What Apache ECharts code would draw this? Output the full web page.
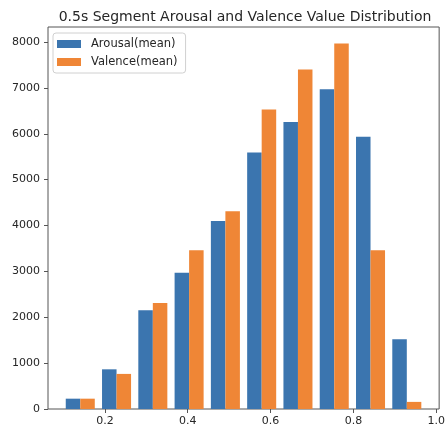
<!DOCTYPE html>
<html>
<head>
<meta charset="utf-8">
<script src="https://cdn.jsdelivr.net/npm/echarts@6/dist/echarts.min.js"></script>
<style>
  html, body { margin: 0; padding: 0; background: #fff; }
  #chart { width: 448px; height: 436px; }
</style>
</head>
<body>
<div id="chart"></div>
<script>
// Histogram bin edges (10 bins) and per-bin counts
const binEdges = [0.0967, 0.1843, 0.2719, 0.3595, 0.4471, 0.5347, 0.6223, 0.7099, 0.7975, 0.8851, 0.9727];
const arousalCounts = [225, 865, 2150, 2970, 4100, 5590, 6255, 6970, 5935, 1520];
const valenceCounts = [225, 765, 2310, 3460, 4310, 6530, 7400, 7970, 3460, 155];
const seriesNames = ['Arousal(mean)', 'Valence(mean)'];
const xTicks = [0.2, 0.4, 0.6, 0.8, 1.0];
const yTicks = [0, 1000, 2000, 3000, 4000, 5000, 6000, 7000, 8000];

const FONT = 'DejaVu Sans';
const TEXT = '#262626';
const FRAME = '#555555';

// Each bin is split into two side-by-side bars covering 80% of the bin width
function binBars(counts, slot) {
  return counts.map((c, i) => {
    const lo = binEdges[i], hi = binEdges[i + 1], w = hi - lo;
    const start = lo + w * (0.1 + 0.4 * slot);
    return [start, start + w * 0.4, c];
  });
}

function renderBar(params, api) {
  const p0 = api.coord([api.value(0), api.value(2)]);
  const p1 = api.coord([api.value(1), 0]);
  return {
    type: 'rect',
    shape: { x: p0[0], y: p0[1], width: p1[0] - p0[0], height: p1[1] - p0[1] },
    style: { fill: api.visual('color') }
  };
}

const chart = echarts.init(document.getElementById('chart'), null, { renderer: 'canvas' });
chart.setOption({
  animation: false,
  backgroundColor: '#ffffff',
  title: {
    text: '0.5s Segment Arousal and Valence Value Distribution',
    left: 240, top: 5, textAlign: 'center',
    textStyle: { fontFamily: FONT, fontSize: 14, fontWeight: 'normal', color: TEXT }
  },
  legend: {
    data: seriesNames,
    orient: 'vertical',
    left: 53, top: 33,
    icon: 'rect',
    itemWidth: 24, itemHeight: 8, itemGap: 4,
    padding: [4, 8, 4, 4],
    borderColor: '#d0d0d0', borderWidth: 1, borderRadius: 3,
    backgroundColor: 'rgba(255,255,255,0.8)',
    textStyle: { fontFamily: FONT, fontSize: 11.5, color: TEXT, lineHeight: 14, padding: [0, 0, 0, 5] }
  },
  grid: {
    left: 48, right: 6, top: 27, bottom: 27,
    show: true, borderColor: FRAME, borderWidth: 1, backgroundColor: 'transparent'
  },
  xAxis: {
    type: 'value', min: 0.0626, max: 1.007,
    axisLine: { show: false },
    splitLine: { show: false },
    axisTick: { show: true, length: 4, customValues: xTicks, lineStyle: { color: FRAME } },
    axisLabel: {
      customValues: xTicks, margin: 7,
      fontFamily: FONT, fontSize: 11, color: TEXT,
      formatter: v => v.toFixed(1)
    }
  },
  yAxis: {
    type: 'value', min: 0, max: 8327,
    axisLine: { show: false },
    splitLine: { show: false },
    axisTick: { show: true, length: 4, customValues: yTicks, lineStyle: { color: FRAME } },
    axisLabel: {
      customValues: yTicks, margin: 8,
      fontFamily: FONT, fontSize: 11, color: TEXT,
      formatter: v => String(Math.round(v))
    }
  },
  series: [
    {
      name: seriesNames[0], type: 'custom',
      itemStyle: { color: '#3b75af' },
      renderItem: renderBar,
      encode: { x: [0, 1], y: 2 },
      data: binBars(arousalCounts, 0)
    },
    {
      name: seriesNames[1], type: 'custom',
      itemStyle: { color: '#ef8636' },
      renderItem: renderBar,
      encode: { x: [0, 1], y: 2 },
      data: binBars(valenceCounts, 1)
    }
  ]
});
</script>
</body>
</html>
